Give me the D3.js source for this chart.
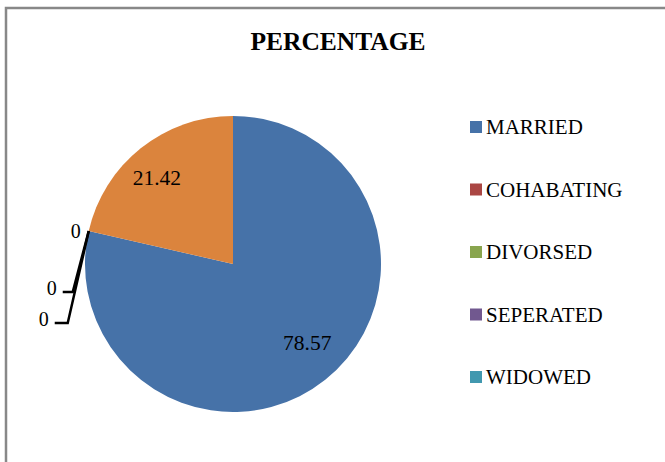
<!DOCTYPE html>
<html><head><meta charset="utf-8">
<script src="https://cdn.jsdelivr.net/npm/d3@7"></script>
<style>body{margin:0;background:#fff}svg{display:block}</style>
</head><body>
<svg id="c" width="665" height="462"></svg>
<script>
const title = "PERCENTAGE";
const categories = ["MARRIED", "COHABATING", "DIVORSED", "SEPERATED", "WIDOWED"];
const values = [78.57, 0, 0, 0, 21.42];
const valueLabels = ["78.57", "0", "0", "0", "21.42"];
const legendColors = ["#4672A8", "#AA4643", "#89A54E", "#71588F", "#4198AF"];
const sliceColors = ["#4672A8", "#AA4643", "#89A54E", "#71588F", "#DB843D"];

const svg = d3.select("#c");
const font = "'Liberation Serif','Times New Roman',serif";

// chart border (right/bottom run off the picture)
svg.append("path").attr("d", "M6,470 V8 H680")
  .attr("fill", "none").attr("stroke", "#888").attr("stroke-width", 2.5);

svg.append("text").attr("x", 338).attr("y", 50).attr("text-anchor", "middle")
  .attr("font-family", font).attr("font-weight", "bold").attr("font-size", 25.5)
  .text(title);

const cx = 233, cy = 264, r = 148;
const g = svg.append("g").attr("transform", `translate(${cx},${cy})`);
const pie = d3.pie().sort(null).value(d => d)(values);
const arc = d3.arc().innerRadius(0).outerRadius(r);
g.selectAll("path.s").data(pie).join("path").attr("class", "s")
  .attr("d", arc).attr("fill", (d, i) => sliceColors[i]);

const lblArc = d3.arc().innerRadius(r * 0.75).outerRadius(r * 0.75);
const lblShift = [[5, -8], null, null, null, [-7, 0]];
pie.forEach((d, i) => {
  if (values[i] > 0) {
    const [x, y] = lblArc.centroid(d);
    g.append("text").attr("x", x + lblShift[i][0]).attr("y", y + lblShift[i][1]).attr("dy", "0.35em")
      .attr("text-anchor", "middle").attr("font-family", font).attr("font-size", 21.5)
      .attr("fill", "#000").text(valueLabels[i]);
  }
});

// zero labels with leader lines
const zeros = pie.map((d, i) => ({d, i})).filter(o => values[o.i] === 0);
const offsets = [{lx: -8, ly: 0, line: false}, {lx: -32, ly: 57, line: true}, {lx: -40, ly: 88, line: true}];
zeros.slice(0, 3).forEach((o, k) => {
  const a = o.d.startAngle;
  const px = r * Math.sin(a), py = -r * Math.cos(a);
  const off = offsets[k];
  const tx = px + off.lx, ty = py + off.ly;
  if (off.line) {
    const elbowX = tx + 16 + (k === 2 ? 3 : 0);
    g.append("path")
      .attr("d", `M${tx + 6},${ty + 4} H${elbowX} L${px},${py}`)
      .attr("fill", "none").attr("stroke", "#000").attr("stroke-width", 2.5);
  }
  g.append("text").attr("x", tx).attr("y", ty).attr("dy", "0.35em")
    .attr("text-anchor", "end").attr("font-family", font).attr("font-size", 20)
    .text(valueLabels[o.i]);
});

const leg = svg.append("g").attr("transform", "translate(470,0)");
categories.forEach((c, i) => {
  const y = 134 + i * 62.5;
  leg.append("rect").attr("x", 0).attr("y", y - 13).attr("width", 12).attr("height", 12)
    .attr("fill", legendColors[i]);
  leg.append("text").attr("x", 16).attr("y", y).attr("font-family", font)
    .attr("font-size", 21).text(c);
});
</script>
</body></html>
